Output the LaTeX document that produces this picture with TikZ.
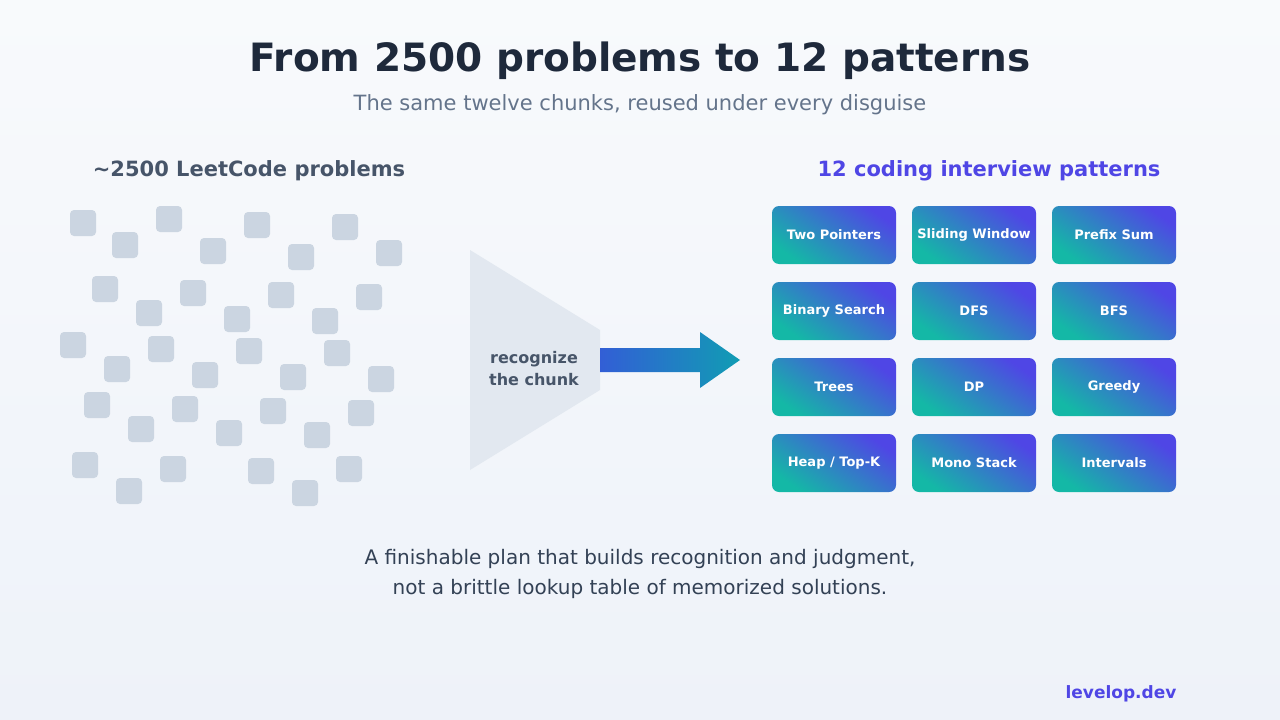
\documentclass[tikz,border=0pt]{standalone}
\usepackage{fontspec}
\setmainfont{DejaVu Sans}
\usetikzlibrary{positioning}
\definecolor{ink}{HTML}{1E293B}
\definecolor{slate}{HTML}{475569}
\definecolor{muted}{HTML}{64748B}
\definecolor{body}{HTML}{334155}
\definecolor{chip}{HTML}{CBD5E1}
\definecolor{funnel}{HTML}{E2E8F0}
\definecolor{indigo}{HTML}{4F46E5}
\definecolor{teal}{HTML}{14B8A6}
\definecolor{bgtop}{HTML}{F8FAFC}
\definecolor{bgbot}{HTML}{EEF2F9}

\begin{document}
\begin{tikzpicture}[x=1pt,y=-1pt]
\tikzstyle{problem}=[rectangle,rounded corners=4pt,fill=chip,minimum size=26pt,inner sep=0pt]
\tikzstyle{pattern}=[rectangle,rounded corners=7pt,left color=indigo,right color=teal,shading angle=-35,
  minimum width=124pt,minimum height=58pt,inner sep=0pt,text=white,font=\bfseries\fontsize{13}{15}\selectfont]
\tikzstyle{heading}=[font=\bfseries\fontsize{21}{25}\selectfont]

\shade[top color=bgtop,bottom color=bgbot] (0,0) rectangle (1280,720);
\useasboundingbox (0,0) rectangle (1280,720);

\node[text=ink,font=\bfseries\fontsize{39}{45}\selectfont] (title) at (640,61) {From 2500 problems to 12 patterns};
\node[text=muted,font=\fontsize{21}{25}\selectfont] (sub) at (640,105) {The same twelve chunks, reused under every disguise};

\node[heading,text=slate] (left) at (249,171) {\textasciitilde2500 LeetCode problems};
\node[heading,text=indigo] (right) at (989,171) {12 coding interview patterns};

% scattered problems
\foreach \x/\y [count=\i] in {83/223,125/245,169/219,213/251,257/225,301/257,345/227,389/253,
  105/289,149/313,193/293,237/319,281/295,325/321,369/297,
  73/345,117/369,161/349,205/375,249/351,293/377,337/353,381/379,
  97/405,141/429,185/409,229/433,273/411,317/435,361/413,
  85/465,129/491,173/469,261/471,305/493,349/469}
  \node[problem] (p\i) at (\x,\y) {};

% funnel and arrow
\fill[funnel] (470,250) -- (600,330) -- (600,390) -- (470,470) -- cycle;
\node[text=slate,font=\bfseries\fontsize{16}{22}\selectfont,align=center] (chunk) at (534,369) {recognize\\the chunk};
\shade[left color=indigo!80!blue!70!teal,right color=teal!85!blue]
  (600,348) -- (700,348) -- (700,332) -- (740,360) -- (700,388) -- (700,372) -- (600,372) -- cycle;

% patterns
\foreach \t [count=\i from 0] in {Two Pointers,Sliding Window,Prefix Sum,Binary Search,DFS,BFS,
  Trees,DP,Greedy,Heap / Top-K,Mono Stack,Intervals}
  \pgfmathtruncatemacro{\c}{mod(\i,3)}
  \pgfmathtruncatemacro{\r}{div(\i,3)}
  \node[pattern] (pat\i) at (834+140*\c,235+76*\r) {\t};

\node[text=body,font=\fontsize{20}{30}\selectfont,align=center] (plan) at (640,574)
  {A finishable plan that builds recognition and judgment,\\not a brittle lookup table of memorized solutions.};
\node[text=indigo,font=\bfseries\fontsize{17}{20}\selectfont] (site) at (1121,694) {levelop.dev};
\end{tikzpicture}
\end{document}
